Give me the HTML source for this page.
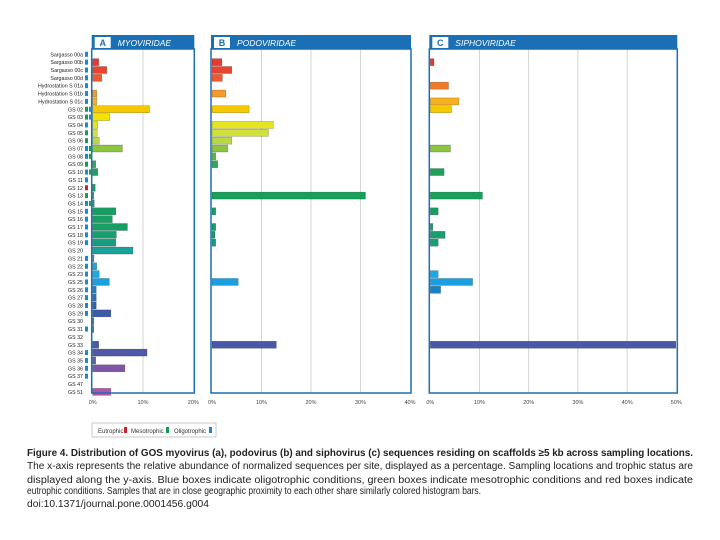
<!DOCTYPE html>
<html><head><meta charset="utf-8"><style>
html,body{margin:0;padding:0;background:#fff;}
svg{display:block;font-family:"Liberation Sans",sans-serif;}
</style></head><body>
<svg id="chart" width="720" height="540" viewBox="0 0 720 540">
<g id="panels"></g>
<g id="labels"></g>
<g>
<rect x="92" y="423" width="124" height="14" fill="#fff" stroke="#bbb" stroke-width="0.8"/>
<text x="98" y="433" font-size="6" fill="#333">Eutrophic</text><rect x="124" y="427" width="3" height="6" fill="#d0202a"/>
<text x="131" y="433" font-size="6" fill="#333">Mesotrophic</text><rect x="166" y="427" width="3" height="6" fill="#169c50"/>
<text x="174" y="433" font-size="6" fill="#333">Oligotrophic</text><rect x="209" y="427" width="3" height="6" fill="#1a8ad0"/>
</g>
<g font-size="10" fill="#222">
<text x="27" y="456" textLength="666" lengthAdjust="spacingAndGlyphs" font-weight="bold">Figure 4. Distribution of GOS myovirus (a), podovirus (b) and siphovirus (c) sequences residing on scaffolds ≥5 kb across sampling locations.</text>
<text x="27" y="469" textLength="666" lengthAdjust="spacingAndGlyphs">The x-axis represents the relative abundance of normalized sequences per site, displayed as a percentage. Sampling locations and trophic status are</text>
<text x="27" y="483" textLength="666" lengthAdjust="spacingAndGlyphs">displayed along the y-axis. Blue boxes indicate oligotrophic conditions, green boxes indicate mesotrophic conditions and red boxes indicate</text>
<text x="27" y="494" textLength="454" lengthAdjust="spacingAndGlyphs">eutrophic conditions. Samples that are in close geographic proximity to each other share similarly colored histogram bars.</text>
<text x="27" y="507" textLength="182" lengthAdjust="spacingAndGlyphs">doi:10.1371/journal.pone.0001456.g004</text>
</g>
</svg>
<script>
const sites=["Sargasso 00a","Sargasso 00b","Sargasso 00c","Sargasso 00d","Hydrostation S 01a","Hydrostation S 01b","Hydrostation S 01c","GS 02","GS 03","GS 04","GS 05","GS 06","GS 07","GS 08","GS 09","GS 10","GS 11","GS 12","GS 13","GS 14","GS 15","GS 16","GS 17","GS 18","GS 19","GS 20","GS 21","GS 22","GS 23","GS 25","GS 26","GS 27","GS 28","GS 29","GS 30","GS 31","GS 32","GS 33","GS 34","GS 35","GS 36","GS 37","GS 47","GS 51"];
const trophic=["o","o","o","o","o","o","o","mo","mo","o","m","m","om","om","m","om","o","e","m","om","o","o","o","o","o","","o","o","o","o","o","o","o","o","","o","","","o","o","o","o","",""];
const barColors=["#e03030","#e53a2f","#e8452f","#eb5a30","#f07a2a","#f59a2a","#f8b020","#f5c800","#f2e400","#e6e620","#d2e03a","#b8d848","#8cc63f","#5cb846","#34a853","#1ea05a","#16a05a","#16a05a","#16a05a","#179e63","#179e63","#179e63","#179e63","#179e72","#179e80","#17a39a","#1aa5c8","#1ea8e0","#1aa8e6","#1aa0e0","#1b7fc4","#2a6cb8","#3560ae","#3b5aa8","#4a58a8","#4a58a8","#4a58a8","#4a58a8","#5058a8","#6a5aaa","#7e56a8","#9650a8","#a64ea4","#b456a6"];
const myoValues=[0,1.2,2.8,1.8,0,0.8,0.8,11.3,3.4,1.0,0.9,1.3,5.9,0,0.6,1.0,0,0.5,0.2,0.3,4.6,3.9,6.9,4.7,4.6,8.0,0.25,0.8,1.3,3.3,0.7,0.7,0.7,3.6,0.2,0.2,0,1.2,10.8,0.6,6.4,0,0,3.6];
const podoValues=[0,2.0,4.0,2.1,0,2.8,0,7.5,0,12.4,11.4,4.0,3.2,0.75,1.15,0,0,0,31.0,0,0.75,0,0.75,0.6,0.75,0,0,0,0,5.3,0,0,0,0,0,0,0,13.0,0,0,0,0,0,0];
const siphoValues=[0,0.75,0,0,3.7,0,5.8,4.3,0,0,0,0,4.1,0,0,2.8,0,0,10.6,0,1.6,0,0.5,3.0,1.6,0,0,0,1.6,8.6,2.1,0,0,0,0,0,0,49.9,0,0,0,0,0,0];
const myoTicks=["0%","10%","20%"];
const podoTicks=["0%","10%","20%","30%","40%"];
const siphoTicks=["0%","10%","20%","30%","40%","50%"];
const NS="http://www.w3.org/2000/svg";
function mk(tag,attrs,parent){const e=document.createElementNS(NS,tag);for(const k in attrs)e.setAttribute(k,attrs[k]);parent.appendChild(e);return e;}
const rowY=i=>54.3+7.85*i;
const plotTop=49,plotBottom=393,barH=7;
const panels=[
 {key:"myo",letter:"A",title:"MYOVIRIDAE",x0:92.7,x1:193.3,max:20,vals:myoValues,ticks:myoTicks},
 {key:"podo",letter:"B",title:"PODOVIRIDAE",x0:212,x1:410,max:40,vals:podoValues,ticks:podoTicks},
 {key:"sipho",letter:"C",title:"SIPHOVIRIDAE",x0:430.3,x1:676.3,max:50,vals:siphoValues,ticks:siphoTicks}];
const pg=document.getElementById('panels');
panels.forEach(p=>{
 const g=mk('g',{},pg);
 
 
 const sx=v=>p.x0+(p.x1-p.x0)*v/p.max;
 mk('rect',{x:p.x0-1,y:35,width:p.x1-p.x0+2,height:14,fill:"#1a6fb5"},g);
 mk('rect',{x:p.x0+2,y:37,width:16,height:11,fill:"#fff"},g);
 const lt=mk('text',{x:p.x0+10,y:46,"font-size":9,"font-weight":"bold",fill:"#1a6fb5","text-anchor":"middle"},g);lt.textContent=p.letter;
 const tt=mk('text',{x:p.x0+25,y:46,"font-size":8.5,"font-style":"italic",fill:"#fff"},g);tt.textContent=p.title;
 
 
 p.ticks.forEach((t,i)=>{
  const v=i*10,x=sx(v);
  if(i>0&&i<p.ticks.length-1)mk('line',{x1:x,x2:x,y1:plotTop,y2:plotBottom,stroke:"#c8c8c8","stroke-width":0.8},g);
  const tx=mk('text',{x:x,y:404,"font-size":5.5,fill:"#444","text-anchor":"middle"},g);tx.textContent=t;
  
  
 });
 p.vals.forEach((v,i)=>{
  if(v<=0)return;
  const r=mk('rect',{x:p.x0,y:rowY(i)-barH/2,width:sx(v)-p.x0,height:barH,fill:barColors[i],stroke:"rgba(0,0,0,0.35)","stroke-width":0.5},g);
  
  
 });
 mk('rect',{x:p.x0-1,y:plotTop,width:p.x1-p.x0+2,height:plotBottom-plotTop,fill:"none",stroke:"#1a6fb5","stroke-width":1.5},g);
});
const lg=document.getElementById('labels');
const tcol={o:"#1a8ad0",m:"#169c50",e:"#d0202a"};
sites.forEach((s,i)=>{
 const y=rowY(i);
 const t=mk('text',{x:83,y:y+2,"font-size":5.3,fill:"#222","text-anchor":"end"},lg);t.textContent=s;
 
 
 const codes=trophic[i].split('').filter(c=>c);
 codes.forEach((c,k)=>{
  const sq=mk('rect',{x:85+k*4,y:y-2.5,width:3,height:5,fill:tcol[c]},lg);
  
  
 });
});
</script>
</body></html>
